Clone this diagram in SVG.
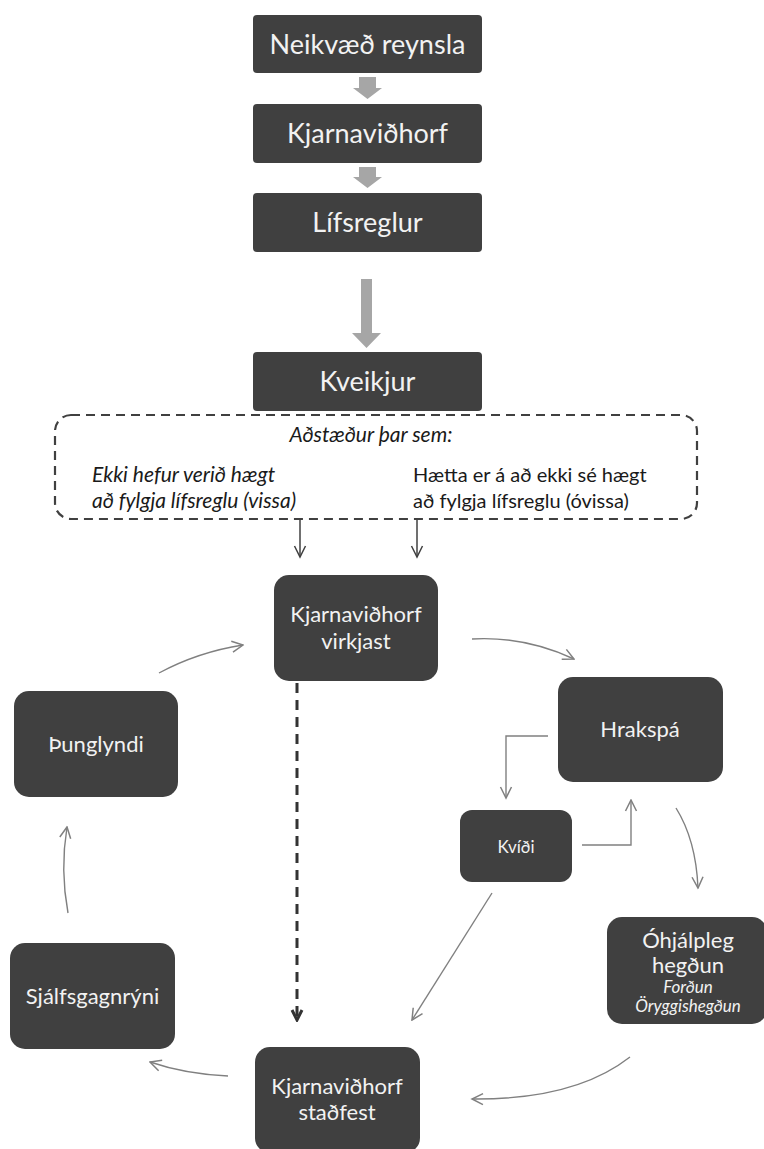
<svg xmlns="http://www.w3.org/2000/svg" width="764" height="1149" viewBox="0 0 764 1149">
<style>
.box{fill:#404040;}
.t{font-family:Lato,"Open Sans","Liberation Sans",sans-serif;fill:#f2f2f2;text-anchor:middle;}
.big{font-size:27px;}
.mid{font-size:22px;}
.sm{font-size:17px;}
.it{font-style:italic;}
.lbl{font-family:Lato,"Open Sans","Liberation Sans",sans-serif;fill:#1a1a1a;font-size:20px;}
.lbl.it{font-size:21px;}
.gray{fill:#a6a6a6;}
.conn{fill:none;stroke:#808080;stroke-width:1.4;}
.dark{fill:none;stroke:#404040;stroke-width:1.5;}
</style>
<defs>
<marker id="ah" viewBox="0 0 14 14" refX="12.5" refY="7" markerWidth="14" markerHeight="14" orient="auto" markerUnits="userSpaceOnUse">
<path d="M1.5,1.5 L12.5,7 L1.5,12.5" fill="none" stroke="#808080" stroke-width="1.5"/>
</marker>
<marker id="ahd" viewBox="0 0 14 14" refX="12.5" refY="7" markerWidth="14" markerHeight="14" orient="auto" markerUnits="userSpaceOnUse">
<path d="M1.5,1.5 L12.5,7 L1.5,12.5" fill="none" stroke="#404040" stroke-width="1.5"/>
</marker>
<marker id="ahb" viewBox="0 0 14 14" refX="12" refY="7" markerWidth="14" markerHeight="14" orient="auto" markerUnits="userSpaceOnUse">
<path d="M2,2 L12,7 L2,12" fill="none" stroke="#333" stroke-width="3"/>
</marker>
</defs>

<g id="n-neikvaed"><rect class="box" x="253" y="15" width="229" height="58" rx="4"/><text class="t big" x="367.5" y="54">Neikvæð reynsla</text></g>
<g id="n-kjarna"><rect class="box" x="253" y="104" width="229" height="59" rx="4"/><text class="t big" x="367.5" y="143">Kjarnaviðhorf</text></g>
<g id="n-lifsreglur"><rect class="box" x="253" y="193" width="229" height="59" rx="4"/><text class="t big" x="367.5" y="232">Lífsreglur</text></g>
<g id="n-kveikjur"><rect class="box" x="253" y="352" width="229" height="59" rx="4"/><text class="t big" x="367.5" y="391">Kveikjur</text></g>

<g id="n-adstaedur">
<rect x="55" y="415" width="642" height="104" rx="16" fill="none" stroke="#404040" stroke-width="2.2" stroke-dasharray="9 6"/>
<text class="lbl it" x="371" y="442" text-anchor="middle">Aðstæður þar sem:</text>
<text class="lbl it" x="92" y="482">Ekki hefur verið hægt</text>
<text class="lbl it" x="92" y="508">að fylgja lífsreglu (vissa)</text>
<text class="lbl" x="413" y="482">Hætta er á að ekki sé hægt</text>
<text class="lbl" x="413" y="508">að fylgja lífsreglu (óvissa)</text>
</g>

<g id="n-virkjast"><rect class="box" x="274" y="575" width="164" height="106" rx="15"/><text class="t mid" x="356" y="622">Kjarnaviðhorf</text><text class="t mid" x="356" y="649">virkjast</text></g>
<g id="n-hrakspa"><rect class="box" x="558" y="677" width="165" height="105" rx="15"/><text class="t mid" x="640" y="737">Hrakspá</text></g>
<g id="n-kvidi"><rect class="box" x="460" y="810" width="112" height="72" rx="12"/><text class="t sm" x="516" y="853">Kvíði</text></g>
<g id="n-ohjalpleg"><rect class="box" x="607" y="917" width="160" height="107" rx="15"/><text class="t mid" x="688" y="948">Óhjálpleg</text><text class="t mid" x="688" y="973">hegðun</text><text class="t sm it" x="688" y="993">Forðun</text><text class="t sm it" x="688" y="1012">Öryggishegðun</text></g>
<g id="n-stadfest"><rect class="box" x="255" y="1047" width="165" height="106" rx="15"/><text class="t mid" x="337" y="1094">Kjarnaviðhorf</text><text class="t mid" x="337" y="1120">staðfest</text></g>
<g id="n-sjalfs"><rect class="box" x="10" y="943" width="165" height="106" rx="15"/><text class="t mid" x="92.5" y="1004">Sjálfsgagnrýni</text></g>
<g id="n-thunglyndi"><rect class="box" x="14" y="691" width="164" height="106" rx="15"/><text class="t mid" x="96" y="752">Þunglyndi</text></g>

<g id="connectors">
<polygon class="gray" points="359,77 376,77 376,88 382,88 367.5,99 353,88 359,88"/>
<polygon class="gray" points="359,167 376,167 376,177 382,177 367.5,188 353,177 359,177"/>
<polygon class="gray" points="361,279 372,279 372,333 381,333 366.5,348 352,333 361,333"/>
<line class="dark" x1="300" y1="520" x2="300" y2="557" marker-end="url(#ahd)"/>
<line class="dark" x1="417" y1="520" x2="417" y2="557" marker-end="url(#ahd)"/>
<line x1="297" y1="683" x2="297" y2="1020" fill="none" stroke="#333" stroke-width="3" stroke-dasharray="10 7" marker-end="url(#ahb)"/>
<path class="conn" d="M472,639 Q525,636 574,659" marker-end="url(#ah)"/>
<path class="conn" d="M548,736 L506,736 L506,798" marker-end="url(#ah)"/>
<path class="conn" d="M582,845 L631,845 L631,800" marker-end="url(#ah)"/>
<path class="conn" d="M676,808 Q696,840 698,888" marker-end="url(#ah)"/>
<path class="conn" d="M630,1057 Q575,1100 472,1099" marker-end="url(#ah)"/>
<line class="conn" x1="492" y1="893" x2="412" y2="1020" marker-end="url(#ah)"/>
<path class="conn" d="M228,1076 Q185,1074 150,1062" marker-end="url(#ah)"/>
<path class="conn" d="M68,913 Q60,870 67,827" marker-end="url(#ah)"/>
<path class="conn" d="M159,673 Q198,652 243,645" marker-end="url(#ah)"/>
</g>
</svg>
